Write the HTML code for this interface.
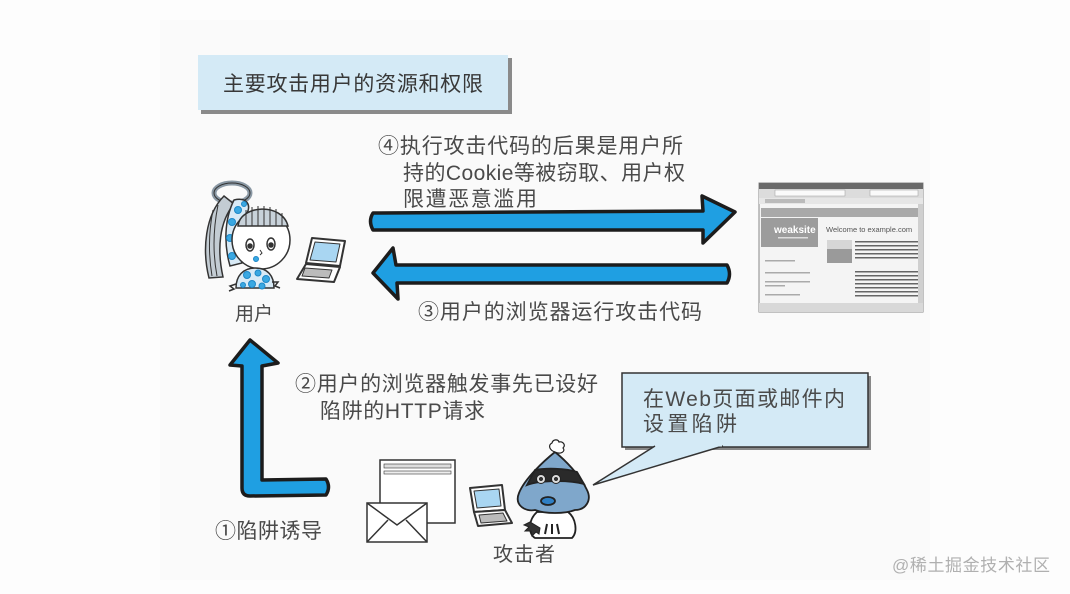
<!DOCTYPE html>
<html><head><meta charset="utf-8"><style>
html,body{margin:0;padding:0;background:#fff;}
svg{display:block;}
text{font-family:"Liberation Sans","Noto Sans CJK SC",sans-serif;}
</style></head><body>
<svg width="1070" height="594" viewBox="0 0 1070 594" xmlns="http://www.w3.org/2000/svg">
<rect x="0" y="0" width="1070" height="594" fill="#fdfdfd"/>
<rect x="160" y="20" width="770" height="560" fill="#fafafa"/>

<!-- Title box -->
<rect x="201" y="58" width="311" height="56" fill="#8a8a8a"/>
<rect x="198" y="55" width="310" height="55" fill="#d4eaf6"/>
<text x="223" y="91" font-size="21" fill="#383838" textLength="260" lengthAdjust="spacing">主要攻击用户的资源和权限</text>

<!-- Texts -->
<g font-size="21" fill="#4a4a4a">
<text x="378" y="153" textLength="305" lengthAdjust="spacing">④执行攻击代码的后果是用户所</text>
<text x="403" y="180" textLength="282" lengthAdjust="spacing">持的Cookie等被窃取、用户权</text>
<text x="403" y="206" textLength="134" lengthAdjust="spacing">限遭恶意滥用</text>
<text x="418" y="319" textLength="284" lengthAdjust="spacing">③用户的浏览器运行攻击代码</text>
<text x="295" y="391" textLength="303" lengthAdjust="spacing">②用户的浏览器触发事先已设好</text>
<text x="320" y="418" textLength="165" lengthAdjust="spacing">陷阱的HTTP请求</text>
<text x="215" y="538" textLength="107" lengthAdjust="spacing">①陷阱诱导</text>
<text x="235" y="320" font-size="19" textLength="38" lengthAdjust="spacing">用户</text>
<text x="493" y="561" font-size="20" textLength="62" lengthAdjust="spacing">攻击者</text>
</g>

<!-- Arrows -->
<g fill="#1f9fe2" stroke="#1c1c1c" stroke-width="3.5" stroke-linejoin="round">
<path d="M373,213 Q368,221 373,230 L703,230 L703,243 L735,212 L702,196 L703,211 Z"/>
<path d="M727,265 Q732,274 727,283 L397,283 L398,299 L373,273 L393,248 L396,265 Z"/>
<path d="M250,340 L278,363 L262,366 L262,480 L326,479 Q331,487 326,495 L250,496 Q242,496 242,488 L242,366 L230,365 Z"/>
</g>

<!-- Browser screenshot -->
<g>
<rect x="759" y="183" width="164" height="129" fill="#f4f4f4" stroke="#888" stroke-width="1"/>
<rect x="759" y="183" width="164" height="6" fill="#6a6a6a"/>
<rect x="759" y="189" width="164" height="9" fill="#dcdcdc"/>
<rect x="775" y="190" width="70" height="6" fill="#fafafa" stroke="#999" stroke-width="0.5"/>
<rect x="870" y="190" width="48" height="6" fill="#fafafa" stroke="#999" stroke-width="0.5"/>
<rect x="759" y="198" width="164" height="6" fill="#e6e6e6"/>
<rect x="765" y="199" width="40" height="4" fill="#bbb"/>
<rect x="761" y="208" width="157" height="9" fill="#a9a9a9"/>
<rect x="761" y="218" width="57" height="29" fill="#9c9c9c"/>
<text x="774" y="233" font-size="10" fill="#fff" font-weight="bold">weaksite</text>
<rect x="778" y="237" width="30" height="1.5" fill="#ddd"/>
<text x="826" y="232" font-size="7.5" fill="#555">Welcome to example.com</text>
<rect x="827" y="240" width="25" height="23" fill="#9a9a9a"/>
<rect x="827" y="240" width="25" height="9" fill="#d6d6d6"/>
<g fill="#666">
<rect x="855" y="241" width="63" height="1.5"/><rect x="855" y="245" width="63" height="1.5"/>
<rect x="855" y="249" width="63" height="1.5"/><rect x="855" y="253" width="63" height="1.5"/>
<rect x="855" y="257" width="63" height="1.5"/><rect x="855" y="271" width="63" height="1.5"/>
<rect x="855" y="275" width="63" height="1.5"/><rect x="855" y="279" width="63" height="1.5"/>
<rect x="855" y="283" width="63" height="1.5"/><rect x="855" y="287" width="63" height="1.5"/>
<rect x="855" y="291" width="63" height="1.5"/><rect x="855" y="295" width="63" height="1.5"/>
</g>
<g fill="#aaa">
<rect x="765" y="260" width="30" height="1.5"/><rect x="765" y="272" width="45" height="1.5"/>
<rect x="765" y="281" width="45" height="1.5"/><rect x="765" y="285" width="20" height="1.5"/>
<rect x="765" y="294" width="35" height="1.5"/>
</g>
<rect x="759" y="303" width="164" height="9" fill="#d8d8d8"/>
<rect x="918" y="204" width="5" height="99" fill="#cfcfcf"/>
</g>

<!-- User figure -->
<g stroke="#333" stroke-width="1.5">
<ellipse cx="232" cy="193" rx="18" ry="10" fill="none" stroke="#8a98a4" stroke-width="5"/>
<ellipse cx="232" cy="193" rx="18" ry="10" fill="none" stroke="#333" stroke-width="1"/>
<path d="M224,196 C205,215 202,250 209,278 L223,277 C217,250 219,222 234,204 Z" fill="#c3ccd3"/>
<path d="M213,210 C208,235 209,258 212,276 M218,205 C213,230 213,255 217,276" fill="none" stroke-width="1"/>
<path d="M234,200 C247,197 252,205 246,215 C238,235 238,250 242,263 L230,266 C224,245 224,220 234,200 Z" fill="#d8eaf6"/>
<g fill="#3aa8e2" stroke="#1e88c8" stroke-width="1">
<circle cx="238" cy="210" r="3.5"/><circle cx="232" cy="222" r="3.5"/><circle cx="240" cy="228" r="3"/>
<circle cx="230" cy="238" r="3.5"/><circle cx="237" cy="246" r="3"/><circle cx="232" cy="256" r="3.5"/>
<circle cx="244" cy="204" r="2.5"/>
</g>
<circle cx="261" cy="240" r="29" fill="#fff"/>
<path d="M238,226 C240,205 282,202 288,226 Z" fill="#c8d2da"/>
<path d="M246,210 V226 M252,207 V226 M258,206 V226 M264,206 V226 M270,207 V226 M276,209 V226 M282,213 V226" stroke-width="1" fill="none"/>
<ellipse cx="250" cy="245" rx="4" ry="6" fill="#fff"/>
<ellipse cx="271" cy="244" rx="4" ry="6" fill="#fff"/>
<circle cx="250" cy="246" r="2" fill="#333"/>
<circle cx="271" cy="245" r="2" fill="#333"/>
<path d="M260,250 l2,3 -2,2" fill="none" stroke-width="1"/>
<circle cx="256" cy="259" r="2.5" fill="#3aa8e2" stroke="#1e88c8" stroke-width="1"/>
<path d="M236,288 C236,276 243,268 255,268 C268,268 274,276 274,288 Z" fill="#d8eaf6"/>
<g fill="#3aa8e2" stroke="#1e88c8" stroke-width="1">
<circle cx="247" cy="275" r="3.5"/><circle cx="258" cy="273" r="3"/><circle cx="266" cy="279" r="3.5"/>
<circle cx="252" cy="284" r="3.5"/><circle cx="262" cy="286" r="3"/><circle cx="243" cy="285" r="2.5"/>
</g>
<path d="M236,284 l-6,2 4,3 -5,2 M272,282 l6,0 -3,4 5,2" fill="none" stroke-width="1.5"/>
</g>

<!-- User laptop -->
<g stroke="#333" stroke-width="2" stroke-linejoin="round">
<path d="M312,238 L345,241 L340,266 L306,263 Z" fill="#fff"/>
<path d="M315,242 L340,244 L336,262 L310,260 Z" fill="#a9d6f2" stroke-width="1"/>
<path d="M306,264 L340,267 L334,282 L297,279 Z" fill="#fff"/>
<path d="M305,268 L332,270 L329,278 L302,276 Z" fill="#bbb" stroke-width="1"/>
</g>

<!-- Web page & envelope -->
<g stroke="#333" stroke-width="1.5">
<rect x="380" y="460" width="75" height="63" fill="#fff"/>
<rect x="384" y="464" width="67" height="4" fill="#ddd" stroke-width="0.6"/>
<rect x="384" y="471" width="67" height="3" fill="#eee" stroke-width="0.6"/>
<rect x="367" y="503" width="60" height="39" fill="#fff"/>
<path d="M367,503 L397,525 L427,503 M367,542 L388,520 M427,542 L406,520" fill="none"/>
</g>

<!-- Attacker laptop -->
<g stroke="#333" stroke-width="2" stroke-linejoin="round">
<path d="M470,488 L502,485 L505,510 L474,512 Z" fill="#fff"/>
<path d="M474,491 L499,489 L501,506 L477,508 Z" fill="#a9d6f2" stroke-width="1"/>
<path d="M474,512 L505,510 L512,523 L478,526 Z" fill="#fff"/>
<path d="M479,515 L503,513 L507,521 L481,523 Z" fill="#bbb" stroke-width="1"/>
</g>

<!-- Attacker -->
<g stroke="#222" stroke-width="1.8">
<path d="M537,512 C528,520 528,534 535,538 L572,538 C578,532 576,518 568,512 Z" fill="#fff"/>
<path d="M555,452 C545,460 525,478 519,493 C514,505 525,512 535,510 C545,514 565,514 575,510 C586,510 592,500 587,490 C580,475 565,460 555,452 Z" fill="#7fa7cb"/>
<path d="M535,470 C545,468 565,468 577,472 L584,484 C570,480 540,480 527,485 Z" fill="#2a2a2a"/>
<circle cx="541" cy="479" r="4.5" fill="#ddd" stroke-width="1"/><circle cx="556" cy="479" r="4.5" fill="#ddd" stroke-width="1"/>
<circle cx="541" cy="479" r="1.8" fill="#333" stroke-width="0.5"/><circle cx="556" cy="479" r="1.8" fill="#333" stroke-width="0.5"/>
<ellipse cx="548" cy="501" rx="7" ry="4" fill="#2f7fc4"/>
<path d="M555,452 c-6,-2 -7,-7 -3,-9 c1,-4 6,-4 7,-1 c4,-1 7,3 4,6 c3,3 -2,7 -8,4 Z" fill="#fff" stroke-width="1.2"/>
<path d="M530,522 l-6,3 5,2 -4,4 6,0 1,5 4,-4 3,2 1,-6 Z" fill="#333" stroke-width="1"/>
<path d="M547,524 l-2,10 M552,524 l0,10 M557,524 l2,10" stroke-width="2"/>
</g>

<!-- Callout -->
<g>
<rect x="625" y="376" width="246" height="74" fill="#888"/>
<rect x="622" y="373" width="246" height="74" fill="#d4eaf6" stroke="#333" stroke-width="1.5"/>
<path d="M655,446 L593,485 L723,446" fill="#d4eaf6" stroke="#333" stroke-width="1.5" stroke-linejoin="miter"/>
<rect x="656" y="444" width="66" height="2.5" fill="#d4eaf6"/>
<text x="643" y="406" font-size="21" fill="#4a4a4a" textLength="202" lengthAdjust="spacing">在Web页面或邮件内</text>
<text x="643" y="431" font-size="21" fill="#4a4a4a" textLength="94" lengthAdjust="spacing">设置陷阱</text>
</g>

<!-- Watermark -->
<text x="892" y="571" font-size="17" fill="#b0b0b0" textLength="158" lengthAdjust="spacing">@稀土掘金技术社区</text>
</svg>
</body></html>
